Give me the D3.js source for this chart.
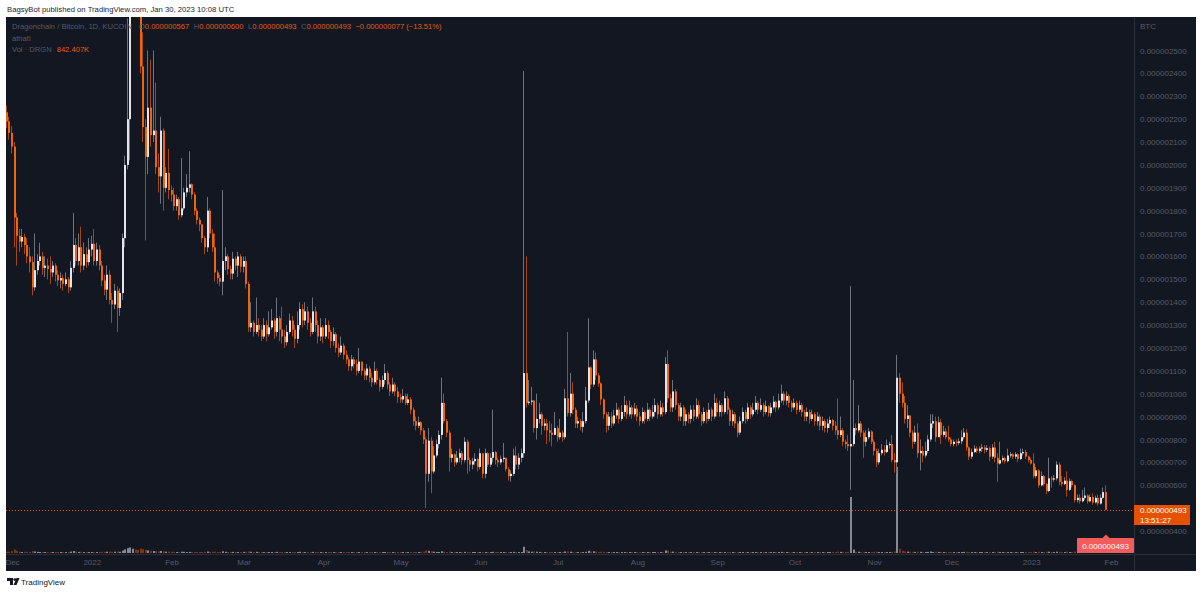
<!DOCTYPE html>
<html>
<head>
<meta charset="utf-8">
<script src="https://cdn.jsdelivr.net/npm/d3@7"></script>
<style>
  body { margin: 0; background: #ffffff; }
  svg { display: block; font-family: "Liberation Sans", Arial, sans-serif; }
</style>
</head>
<body>
<div id="chart"></div>
<script>
// DRGN/BTC daily bars, prices in units of 0.000000001 BTC
// first bar is 2021-11-29, open of each bar = previous close
const firstDay = Date.UTC(2021, 10, 29);
const firstOpen = 2230;

const closes = [
  2190, 2140,
  // Dec 2021
  2080, 1770, 1690, 1665, 1685, 1650, 1600, 1575, 1465, 1540, 1580, 1600, 1550, 1560, 1545, 1530,
  1560, 1520, 1495, 1505, 1480, 1500, 1465, 1550, 1650, 1580, 1640, 1560, 1610, 1575, 1630,
  // Jan 2022
  1655, 1580, 1630, 1560, 1495, 1455, 1520, 1410, 1390, 1450, 1375, 1440, 1680, 2000, 2200, 2800,
  2950, 2850, 2800, 2430, 2165, 2035, 2250, 2130, 2150, 1990, 1950, 2150, 1900, 1965, 1890,
  // Feb
  1870, 1820, 1850, 1780, 1810, 1880, 1900, 1915, 1870, 1800, 1760, 1740, 1680, 1640,
  1800, 1700, 1640, 1530, 1505, 1490, 1580, 1600, 1545, 1525, 1590, 1560, 1600, 1555,
  // Mar
  1580, 1480, 1290, 1310, 1270, 1300, 1280, 1250, 1300, 1260, 1290, 1320, 1270, 1330, 1280, 1250,
  1225, 1270, 1320, 1280, 1240, 1300, 1370, 1320, 1360, 1310, 1270, 1360, 1300, 1250, 1290,
  // Apr
  1250, 1300, 1270, 1230, 1260, 1200, 1180, 1210, 1170, 1150, 1120, 1150, 1130, 1100, 1140,
  1100, 1080, 1110, 1070, 1050, 1100, 1060, 1030, 1060, 1090, 1040, 1010, 1040, 1010, 985,
  // May
  975, 990, 960, 975, 930, 880, 860, 875, 840, 800, 650, 795, 660, 730, 780, 820,
  960, 880, 830, 720, 735, 700, 720, 740, 710, 790, 710, 690, 705, 715, 680,
  // Jun
  740, 650, 740, 690, 720, 745, 710, 700, 715, 720, 670, 640, 650, 730, 690,
  720, 740, 1090, 960, 965, 970, 850, 890, 910, 860, 870, 840, 830, 820, 850,
  // Jul
  810, 830, 810, 980, 915, 1000, 930, 870, 880, 855, 880, 970, 1115, 1040, 1150, 1080,
  1045, 975, 910, 860, 900, 870, 905, 930, 890, 920, 950, 910, 940, 910, 935,
  // Aug
  900, 880, 920, 890, 930, 900, 920, 950, 910, 940, 920, 1130, 980, 940, 1010, 950,
  900, 940, 880, 910, 890, 930, 900, 950, 910, 880, 920, 890, 930, 900, 960,
  // Sep
  920, 950, 920, 980, 930, 880, 910, 870, 830, 880, 920, 890, 940, 910, 930,
  960, 930, 950, 920, 945, 915, 940, 965, 940, 970, 1000, 970, 990, 960, 940,
  // Oct
  960, 930, 950, 920, 900, 920, 890, 910, 880, 900, 860, 880, 850, 870, 885, 860,
  840, 820, 840, 790, 780, 770, 780, 850, 840, 870, 830, 790, 810, 835, 790,
  // Nov
  750, 700, 740, 755, 745, 775, 780, 710, 700, 1070, 1000, 960, 890, 905, 830,
  790, 830, 740, 750, 730, 750, 800, 870, 880, 810, 875, 820, 835, 810, 800,
  // Dec
  780, 790, 785, 792, 810, 830, 765, 725, 745, 760, 750, 760, 765, 755, 762, 725,
  765, 720, 695, 710, 718, 705, 730, 735, 725, 735, 715, 740, 745, 725, 710,
  // Jan 2023
  695, 640, 665, 600, 640, 605, 575, 630, 625, 630, 690, 615, 605, 620, 580,
  618, 600, 535, 545, 530, 545, 555, 530, 548, 525, 545, 520, 545, 570, 493
];

const highs = [
  2260, 2210,
  2170, 2100, 1790, 1720, 1720, 1700, 1680, 1640, 1600, 1700, 1610, 1660, 1620, 1600, 1590, 1600,
  1580, 1570, 1540, 1530, 1520, 1530, 1510, 1580, 1790, 1680, 1700, 1730, 1660, 1640, 1680,
  1690, 1720, 1660, 1650, 1580, 1520, 1560, 1540, 1440, 1480, 1470, 1460, 1700, 2040, 2640, 2900,
  3100, 3050, 2950, 2850, 2580, 2200, 2500, 2460, 2500, 2360, 2050, 2210, 2160, 1990, 2070,
  1910, 1900, 1870, 1860, 2030, 1900, 1960, 2060, 1920, 1880, 1810, 1770, 1740, 1690,
  1860, 1810, 1720, 1700, 1540, 1520, 1890, 1640, 1610, 1560, 1620, 1600, 1620, 1610,
  1600, 1600, 1490, 1400, 1320, 1420, 1330, 1300, 1330, 1320, 1360, 1370, 1330, 1420, 1340, 1380,
  1280, 1300, 1350, 1340, 1300, 1360, 1400, 1390, 1400, 1380, 1330, 1420, 1380, 1320, 1330,
  1300, 1330, 1320, 1280, 1290, 1270, 1220, 1250, 1220, 1190, 1160, 1170, 1160, 1150, 1200,
  1140, 1110, 1130, 1120, 1090, 1140, 1110, 1070, 1080, 1130, 1100, 1050, 1070, 1050, 1030,
  1000, 1020, 1000, 1000, 985, 940, 900, 900, 880, 850, 810, 850, 810, 770, 800, 840,
  1070, 1000, 890, 840, 760, 740, 750, 760, 750, 810, 800, 720, 720, 740, 720,
  760, 720, 760, 745, 740, 930, 750, 720, 730, 785, 720, 680, 665, 760, 770,
  740, 760, 2410, 1600, 1060, 1030, 960, 1000, 960, 920, 890, 890, 880, 870, 920,
  860, 890, 840, 1020, 1270, 1090, 1050, 940, 900, 890, 920, 1030, 1330, 1120, 1190, 1180,
  1090, 1050, 980, 920, 920, 920, 930, 960, 940, 950, 990, 970, 970, 950, 960,
  950, 920, 940, 930, 960, 940, 950, 980, 960, 970, 960, 1160, 1190, 1000, 1060, 1020,
  960, 960, 950, 930, 920, 950, 950, 980, 970, 920, 940, 930, 960, 940, 1000,
  980, 970, 960, 1010, 990, 940, 930, 920, 880, 900, 940, 930, 960, 950, 960,
  990, 970, 980, 960, 970, 950, 960, 990, 970, 1000, 1040, 1010, 1010, 1000, 970,
  980, 970, 970, 960, 930, 940, 930, 930, 920, 920, 910, 900, 890, 890, 900, 890,
  880, 980, 900, 850, 800, 820, 1470, 1060, 870, 950, 880, 840, 840, 850, 840,
  800, 760, 760, 780, 775, 800, 790, 820, 740, 1170, 1090, 1050, 990, 950, 900,
  840, 860, 870, 800, 770, 790, 820, 910, 910, 900, 900, 890, 860, 850, 860,
  810, 800, 800, 805, 840, 850, 845, 770, 760, 775, 770, 770, 780, 775, 775, 770,
  780, 790, 740, 790, 730, 725, 760, 745, 740, 745, 740, 760, 760, 755, 730,
  720, 740, 680, 670, 660, 645, 610, 720, 640, 645, 705, 700, 640, 635, 660,
  630, 625, 605, 560, 560, 580, 590, 560, 560, 565, 555, 560, 560, 590, 600
];

const lows = [
  2160, 2110,
  2050, 1640, 1560, 1620, 1640, 1610, 1570, 1530, 1430, 1450, 1520, 1560, 1520, 1510, 1500, 1480,
  1510, 1490, 1470, 1460, 1450, 1470, 1440, 1450, 1530, 1560, 1560, 1530, 1540, 1550, 1560,
  1600, 1560, 1560, 1540, 1470, 1430, 1410, 1390, 1310, 1370, 1270, 1340, 1410, 1640, 1980, 2020,
  2700, 2700, 2700, 2400, 2100, 1670, 1960, 2080, 2100, 1960, 1880, 1830, 1800, 1880, 1850,
  1840, 1800, 1800, 1760, 1770, 1800, 1860, 1880, 1850, 1780, 1740, 1710, 1660, 1610,
  1620, 1680, 1620, 1490, 1480, 1470, 1430, 1540, 1520, 1500, 1500, 1540, 1510, 1530,
  1530, 1460, 1270, 1270, 1250, 1260, 1250, 1230, 1240, 1230, 1250, 1280, 1240, 1250, 1230, 1220,
  1200, 1210, 1260, 1250, 1200, 1220, 1280, 1290, 1300, 1280, 1250, 1260, 1270, 1220, 1230,
  1220, 1240, 1240, 1200, 1210, 1180, 1160, 1170, 1150, 1130, 1100, 1100, 1110, 1080, 1090,
  1080, 1060, 1060, 1050, 1030, 1040, 1040, 1010, 1020, 1040, 1020, 990, 1000, 990, 960,
  960, 960, 950, 950, 910, 860, 840, 850, 820, 780, 500, 615, 565, 650, 720, 760,
  800, 870, 810, 660, 700, 680, 690, 700, 690, 700, 650, 660, 670, 690, 660,
  670, 630, 630, 680, 680, 700, 690, 680, 690, 700, 660, 620, 615, 640, 670,
  670, 700, 720, 940, 950, 950, 830, 800, 870, 820, 840, 780, 790, 770, 820,
  790, 800, 790, 800, 900, 900, 910, 850, 850, 840, 830, 870, 960, 1020, 1030, 1060,
  1030, 950, 890, 830, 840, 850, 860, 890, 870, 880, 900, 890, 900, 890, 900,
  880, 860, 870, 870, 880, 880, 890, 900, 890, 900, 900, 910, 960, 920, 920, 930,
  880, 880, 860, 860, 870, 870, 880, 890, 890, 860, 870, 870, 880, 880, 890,
  900, 900, 900, 910, 910, 860, 860, 850, 810, 820, 870, 870, 880, 890, 900,
  920, 910, 920, 900, 910, 900, 900, 930, 920, 930, 960, 950, 950, 940, 920,
  930, 910, 920, 900, 880, 880, 870, 880, 860, 860, 840, 840, 830, 830, 850, 840,
  820, 800, 810, 770, 760, 750, 580, 770, 820, 830, 810, 720, 770, 800, 780,
  730, 680, 690, 730, 730, 740, 760, 700, 655, 650, 960, 940, 870, 850, 810,
  760, 780, 720, 665, 700, 720, 740, 790, 850, 790, 820, 780, 810, 800, 790,
  770, 770, 770, 775, 780, 800, 750, 710, 715, 740, 740, 740, 745, 740, 745, 705,
  715, 700, 615, 690, 700, 695, 700, 720, 715, 715, 700, 710, 730, 715, 700,
  690, 630, 630, 590, 595, 595, 560, 570, 590, 615, 620, 600, 595, 600, 550,
  575, 590, 525, 525, 520, 525, 535, 520, 525, 515, 520, 510, 515, 540, 493
];

// volume, thousands of DRGN
const volumes = [
  1400, 1200,
  1800, 3500, 2200, 1300, 1000, 1100, 1200, 1000, 1900, 1500, 1100, 900, 1000, 900, 800, 900,
  1000, 800, 900, 800, 900, 800, 1000, 1400, 2000, 1300, 1100, 1200, 900, 800, 1000,
  1000, 1100, 900, 1000, 1200, 1100, 1300, 1400, 1200, 1300, 1600, 1200, 2400, 3600, 4800, 5600,
  4200, 3400, 3000, 4400, 3800, 3200, 2600, 2200, 2000, 1800, 1600, 2000, 1700, 1300, 1400,
  1200, 1100, 1000, 1100, 1300, 1200, 1000, 1100, 1000, 1100, 1000, 900, 1000, 1100,
  1500, 1200, 1100, 1400, 1000, 900, 1700, 1200, 1000, 900, 1100, 900, 1000, 1000,
  1100, 1200, 1600, 1200, 1000, 1200, 900, 1000, 900, 900, 1000, 900, 800, 1100, 900, 1000,
  900, 800, 900, 800, 900, 1000, 1200, 1000, 900, 900, 800, 1100, 900, 900, 800,
  900, 1000, 800, 900, 900, 1000, 900, 800, 800, 900, 1000, 800, 800, 900, 900,
  800, 700, 800, 800, 900, 1000, 800, 700, 800, 900, 800, 900, 800, 800, 900,
  900, 800, 900, 800, 1000, 1100, 900, 800, 1100, 1300, 2600, 2200, 1800, 1300, 1100, 1000,
  1700, 1200, 1000, 1300, 900, 800, 800, 900, 800, 1100, 1000, 800, 700, 800, 900,
  1000, 1100, 900, 800, 800, 1200, 900, 800, 800, 900, 1000, 1100, 1000, 1100, 1000,
  900, 1000, 6200, 3000, 1600, 1300, 1500, 1300, 1100, 1000, 900, 1000, 900, 900, 1000,
  900, 800, 800, 1500, 1600, 1300, 1100, 1000, 800, 800, 900, 1200, 2200, 1500, 1700, 1300,
  1100, 1200, 1100, 1000, 900, 900, 800, 800, 900, 900, 1000, 900, 800, 800, 900,
  900, 800, 900, 800, 900, 800, 800, 900, 800, 900, 900, 2600, 2400, 1300, 1400, 1100,
  1000, 900, 1000, 900, 800, 900, 800, 1000, 900, 900, 800, 800, 900, 900, 1000,
  900, 900, 800, 1000, 900, 1000, 800, 900, 1100, 900, 900, 800, 900, 900, 800,
  900, 800, 800, 900, 800, 900, 800, 900, 800, 900, 1100, 900, 900, 800, 900,
  900, 800, 800, 900, 800, 800, 900, 700, 800, 800, 900, 800, 900, 800, 800, 900,
  900, 1300, 1100, 1200, 1000, 1100, 56000, 3400, 1200, 1300, 1000, 1200, 1000, 900, 1000,
  1200, 1300, 1000, 900, 900, 1000, 900, 1200, 1500, 86000, 4200, 2200, 1600, 1400, 1300,
  1200, 1100, 1300, 1200, 1000, 1000, 1100, 1500, 1000, 1200, 1100, 1000, 900, 900, 1000,
  1000, 900, 800, 900, 1000, 1100, 1200, 1000, 900, 800, 800, 900, 800, 900, 800, 1000,
  900, 1100, 1300, 1000, 900, 800, 900, 800, 700, 800, 900, 900, 800, 900, 900,
  1000, 1300, 1000, 1200, 1000, 1000, 1200, 1300, 1000, 900, 1300, 1200, 1000, 900, 1300,
  1000, 900, 1500, 1100, 1000, 1000, 1100, 1000, 900, 1000, 900, 1000, 900, 1100, 842
];

const priceTicks = [400, 500, 600, 700, 800, 900, 1000, 1100, 1200, 1300, 1400, 1500,
  1600, 1700, 1800, 1900, 2000, 2100, 2200, 2300, 2400, 2500];
const legendOHLC = [["O", "0.000000567"], ["H", "0.000000600"], ["L", "0.000000493"], ["C", "0.000000493"]];
const legendChange = "\u22120.000000077 (\u221213.51%)";
const lastPrice = 493;

function drawChart() {

    const W = 1200, H = 594;
    const left = 6, top = 17, right = 1196, bottom = 571;
    const axisX = 1134, axisY = 554;
    const fs = 8;
    const legFs = 7.6;

    const bg = "#131722";
    const upBody = "#e3e5ea", upWick = "#6e727e";
    const dnBody = "#f0650c", dnWick = "#a8460e";
    const textGrey = "#565b67";
    const orange = "#e65c0c";

    const svg = d3.select("#chart")
        .append("svg")
        .attr("width", W)
        .attr("height", H);

    svg.append("rect").attr("width", W).attr("height", H).attr("fill", "#ffffff");

    svg.append("text")
        .attr("x", 7).attr("y", 12)
        .attr("font-size", 7.7)
        .attr("fill", "#1e222d")
        .text("BagsyBot published on TradingView.com, Jan 30, 2023 10:08 UTC");

    svg.append("rect")
        .attr("x", left).attr("y", top)
        .attr("width", right - left).attr("height", bottom - top)
        .attr("fill", bg);

    const x = d3.scaleUtc()
        .domain([new Date(Date.UTC(2021, 11, 1)), new Date(Date.UTC(2023, 1, 1))])
        .range([12, 1111]);

    const y = d3.scaleLinear()
        .domain([400, 2500])
        .range([531, 50.5]);

    const vy = d3.scaleLinear()
        .domain([0, 100000])
        .range([0, 100]);

    const bars = closes.map((c, i) => {
        const o = i ? closes[i - 1] : firstOpen;
        return {
            date: d3.utcDay.offset(new Date(firstDay), i),
            o: o, c: c,
            h: Math.max(highs[i], o, c),
            l: Math.min(lows[i], o, c),
            v: volumes[i]
        };
    });

    svg.append("clipPath").attr("id", "plot")
        .append("rect")
        .attr("x", left).attr("y", top)
        .attr("width", axisX - left).attr("height", axisY - top);

    const plot = svg.append("g").attr("clip-path", "url(#plot)");
    const cx = d => Math.round(x(d.date));

    // volume
    plot.selectAll("rect.vol")
        .data(bars)
        .join("rect")
        .attr("class", "vol")
        .attr("x", d => cx(d) - 1)
        .attr("width", 2)
        .attr("y", d => 553 - Math.max(1, vy(d.v)))
        .attr("height", d => Math.max(1, vy(d.v)))
        .attr("fill", d => d.c >= d.o ? "#9a9da6" : "#8d3b0d")
        .attr("opacity", 0.85);

    // last price line
    plot.append("line")
        .attr("x1", left).attr("x2", axisX)
        .attr("y1", Math.round(y(lastPrice)) + 0.5)
        .attr("y2", Math.round(y(lastPrice)) + 0.5)
        .attr("stroke", "#e65100")
        .attr("stroke-dasharray", "1 2");

    // wicks
    plot.selectAll("line.wick")
        .data(bars)
        .join("line")
        .attr("class", "wick")
        .attr("x1", d => cx(d) - 0.5)
        .attr("x2", d => cx(d) - 0.5)
        .attr("y1", d => y(d.h))
        .attr("y2", d => y(d.l))
        .attr("stroke", d => d.c >= d.o ? upWick : dnWick)
        .attr("stroke-width", 1);

    // bodies
    plot.selectAll("rect.body")
        .data(bars)
        .join("rect")
        .attr("class", "body")
        .attr("x", d => cx(d) - 1)
        .attr("width", 2)
        .attr("y", d => y(Math.max(d.o, d.c)))
        .attr("height", d => Math.max(1, Math.abs(y(d.o) - y(d.c))))
        .attr("fill", d => d.c >= d.o ? upBody : dnBody);

    // separators
    svg.append("line")
        .attr("x1", axisX + 0.5).attr("x2", axisX + 0.5)
        .attr("y1", top).attr("y2", bottom)
        .attr("stroke", "#2a2e39");
    svg.append("line")
        .attr("x1", left).attr("x2", right)
        .attr("y1", axisY + 0.5).attr("y2", axisY + 0.5)
        .attr("stroke", "#2a2e39");

    // price axis
    const yAxis = svg.append("g")
        .attr("transform", `translate(${axisX},0)`)
        .call(d3.axisRight(y)
            .tickValues(priceTicks)
            .tickSize(0)
            .tickPadding(6)
            .tickFormat(v => (v / 1e9).toFixed(9)));
    yAxis.select(".domain").remove();
    yAxis.selectAll("text")
        .attr("font-size", fs)
        .attr("font-family", "Liberation Sans, Arial, sans-serif")
        .attr("fill", textGrey);

    svg.append("text")
        .attr("x", 1140).attr("y", 28.5)
        .attr("font-size", fs)
        .attr("fill", textGrey)
        .text("BTC");

    // time axis
    const months = d3.utcMonth.range(new Date(Date.UTC(2021, 11, 1)), new Date(Date.UTC(2023, 1, 2)));
    const xAxis = svg.append("g")
        .attr("transform", `translate(0,${axisY})`)
        .call(d3.axisBottom(x)
            .tickValues(months)
            .tickSize(0)
            .tickPadding(5.5)
            .tickFormat(d => d.getUTCMonth() === 0 ? d3.utcFormat("%Y")(d) : d3.utcFormat("%b")(d)));
    xAxis.select(".domain").remove();
    xAxis.selectAll("text")
        .attr("font-size", fs)
        .attr("font-family", "Liberation Sans, Arial, sans-serif")
        .attr("fill", textGrey);

    // last price label on the axis
    const ly = Math.round(y(lastPrice));
    svg.append("rect")
        .attr("x", axisX).attr("y", ly - 5)
        .attr("width", 56).attr("height", 20)
        .attr("fill", "#e65100");
    svg.append("text")
        .attr("x", 1140).attr("y", ly + 3)
        .attr("font-size", fs).attr("fill", "#ffffff")
        .text((lastPrice / 1e9).toFixed(9));
    svg.append("text")
        .attr("x", 1140).attr("y", ly + 12.5)
        .attr("font-size", fs).attr("fill", "#ffffff")
        .text("13:51:27");

    // red price note under the last bar
    const lastX = cx(bars[bars.length - 1]);
    svg.append("rect")
        .attr("x", 1077).attr("y", 538)
        .attr("width", axisX - 1077).attr("height", 15)
        .attr("rx", 1)
        .attr("fill", "#f25c5c");
    svg.append("path")
        .attr("d", `M${lastX - 4},538.5 L${lastX},534.5 L${lastX + 4},538.5 Z`)
        .attr("fill", "#f25c5c");
    svg.append("text")
        .attr("x", 1105.5).attr("y", 548.5)
        .attr("text-anchor", "middle")
        .attr("font-size", fs).attr("fill", "#ffffff")
        .text((lastPrice / 1e9).toFixed(9));

    // legend
    const leg = svg.append("text")
        .attr("x", 12).attr("y", 29)
        .attr("font-size", legFs);
    leg.append("tspan").attr("fill", textGrey).text("Dragonchain / Bitcoin, 1D, KUCOIN");
    legendOHLC.forEach((p, i) => {
        leg.append("tspan").attr("dx", i ? 4.5 : 7).attr("fill", textGrey).text(p[0]);
        leg.append("tspan").attr("fill", orange).text(p[1]);
    });
    leg.append("tspan").attr("dx", 4.5).attr("fill", orange).text(legendChange);

    svg.append("text")
        .attr("x", 12).attr("y", 40.5)
        .attr("font-size", legFs)
        .attr("fill", textGrey)
        .text("athatl");

    const vol = svg.append("text")
        .attr("x", 12).attr("y", 51.5)
        .attr("font-size", legFs);
    vol.append("tspan").attr("fill", textGrey).text("Vol \u00b7 DRGN");
    vol.append("tspan").attr("dx", 5).attr("fill", orange).text("842.407K");

    // TradingView mark
    const logo = svg.append("g").attr("fill", "#131722");
    logo.append("path").attr("d", "M7,578 H13 V585 H10 V581 H7 Z");
    logo.append("circle").attr("cx", 14.8).attr("cy", 579.6).attr("r", 1.4);
    logo.append("path").attr("d", "M16.5,578 H19.5 L16.5,585 H13.5 Z");
    svg.append("text")
        .attr("x", 21).attr("y", 585)
        .attr("font-size", fs)
        .attr("fill", "#131722")
        .text("TradingView");
}

drawChart();
</script>
</body>
</html>
